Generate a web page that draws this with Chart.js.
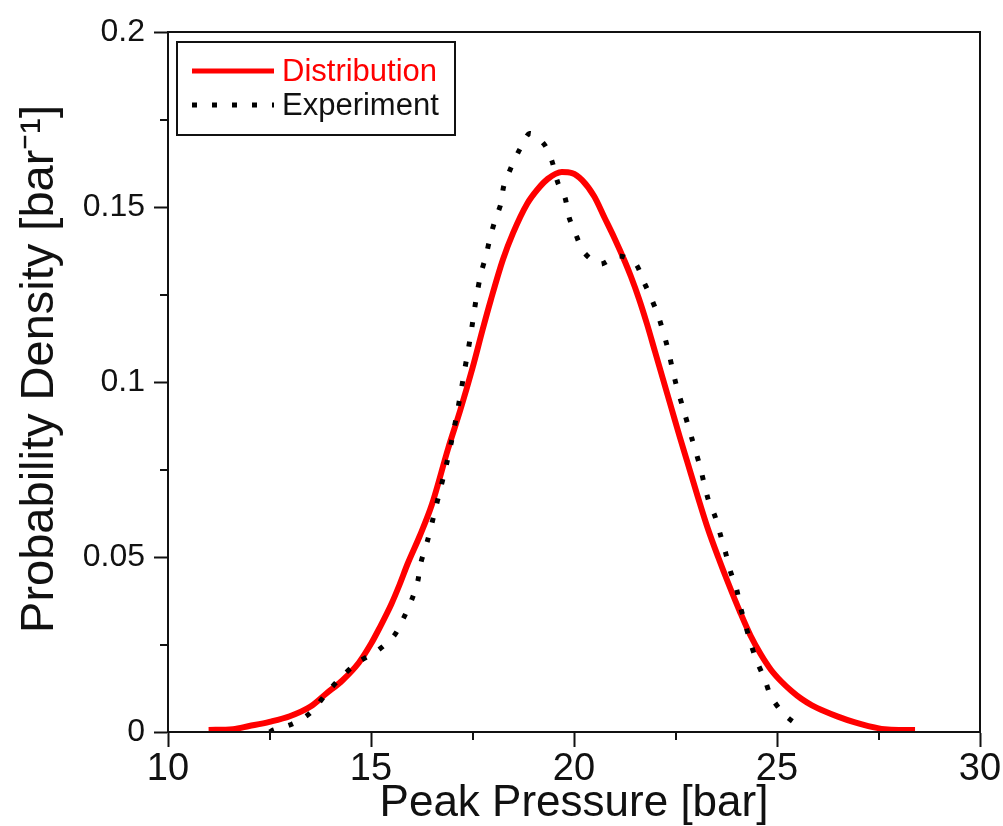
<!DOCTYPE html>
<html>
<head>
<meta charset="utf-8">
<script src="https://cdn.jsdelivr.net/npm/chart.js@4.4.1/dist/chart.umd.min.js"></script>
<style>
  html, body { margin: 0; padding: 0; background: #fff; }
  #wrap { width: 1003px; height: 826px; }
</style>
</head>
<body>
<div id="wrap"><canvas id="chart" width="1003" height="826"></canvas></div>
<script>
// Distribution (fitted curve)
const distX = [11.0, 11.6, 12.0, 12.5, 13.0, 13.5, 13.9, 14.3, 14.7, 15.0, 15.2, 15.5, 15.7, 15.9, 16.2, 16.5, 16.9, 17.2, 17.5, 17.75,
    17.95, 18.25, 18.5, 18.85, 19.1, 19.35, 19.7, 19.95, 20.2, 20.5, 20.75, 21.0, 21.25, 21.4, 21.6, 21.8, 22.0, 22.2, 22.4, 22.6,
    22.8, 23.05, 23.3, 23.55, 23.8, 24.1, 24.35, 24.6, 24.85, 25.1, 25.35, 25.6, 25.85, 26.2, 26.5, 26.9, 27.25, 27.65, 28.0, 28.4];
const distY = [0.0006, 0.0008, 0.0017, 0.0029, 0.0045, 0.0072, 0.011, 0.0148, 0.0198, 0.0252, 0.0295, 0.0365, 0.042, 0.048, 0.056, 0.065, 0.081, 0.092, 0.104, 0.115,
    0.1234, 0.135, 0.1426, 0.151, 0.155, 0.158, 0.16, 0.1597, 0.1577, 0.153, 0.147, 0.141, 0.1345, 0.1302, 0.1238, 0.1165, 0.1085, 0.1005, 0.0925, 0.0845,
    0.0768, 0.0672, 0.058, 0.05, 0.0425, 0.034, 0.0275, 0.0222, 0.0178, 0.0145, 0.0118, 0.0095, 0.0077, 0.0058, 0.0044, 0.0028, 0.0017, 0.0008, 0.0006, 0.0006];

// Experiment (measured)
const expX = [12.5, 12.6, 13.06, 13.5, 13.9, 14.27, 14.69, 15.13, 15.56, 15.8, 16.0, 16.15, 16.22, 16.4, 16.55, 16.7, 16.85, 17.0, 17.15, 17.3,
    17.45, 17.58, 17.7, 17.83, 17.93, 18.05, 18.2, 18.27, 18.44, 18.67, 18.91, 19.26, 19.46, 19.6, 19.78, 19.88, 20.05, 20.25, 20.64, 21.09,
    21.5, 21.72, 21.9, 22.1, 22.3, 22.5, 22.7, 22.9, 23.1, 23.31, 23.48, 23.6, 23.73, 23.85, 24.0, 24.1, 24.22, 24.35, 24.5, 24.7,
    24.86, 25.19, 25.6];
const expY = [0.0, 0.0006, 0.0023, 0.0054, 0.011, 0.0157, 0.020, 0.023, 0.0274, 0.0325, 0.0377, 0.043, 0.048, 0.055, 0.062, 0.069, 0.076, 0.084, 0.093, 0.103,
    0.113, 0.123, 0.1306, 0.136, 0.141, 0.146, 0.151, 0.156, 0.161, 0.1666, 0.171, 0.168, 0.163, 0.157, 0.1526, 0.147, 0.142, 0.137, 0.1337, 0.136,
    0.134, 0.1286, 0.124, 0.118, 0.11, 0.1, 0.092, 0.084, 0.076, 0.0663, 0.0614, 0.0566, 0.0514, 0.046, 0.041, 0.0357, 0.0308, 0.0254, 0.0203, 0.015,
    0.01, 0.0049, 0.0012];

const xMinor = [12.5, 17.5, 22.5, 27.5];
const yMinor = [0.025, 0.075, 0.125, 0.175];

const FONT = "'Liberation Sans', Arial, sans-serif";
const INK = '#111';

const toPoints = (xs, ys) => xs.map((x, i) => ({ x, y: ys[i] }));

const frame = {
    id: 'frame',
    afterDraw(chart) {
        const { ctx, chartArea: a, scales: { x, y } } = chart;
        ctx.save();
        ctx.strokeStyle = INK;
        ctx.lineWidth = 2;
        ctx.strokeRect(a.left, a.top, a.right - a.left, a.bottom - a.top);
        ctx.beginPath();
        for (const v of xMinor) {
            const px = Math.round(x.getPixelForValue(v));
            ctx.moveTo(px, a.bottom);
            ctx.lineTo(px, a.bottom + 8);
        }
        for (const v of yMinor) {
            const py = Math.round(y.getPixelForValue(v));
            ctx.moveTo(a.left, py);
            ctx.lineTo(a.left - 8, py);
        }
        ctx.stroke();
        ctx.restore();
    }
};

const boxLegend = {
    id: 'boxLegend',
    afterDraw(chart) {
        const { ctx } = chart;
        const sets = chart.data.datasets;
        ctx.save();
        ctx.strokeStyle = INK;
        ctx.lineWidth = 2;
        ctx.strokeRect(177, 42, 278, 93);
        ctx.font = '31px ' + FONT;
        ctx.textBaseline = 'middle';
        sets.forEach((ds, i) => {
            const yy = 71 + i * 34;
            ctx.beginPath();
            ctx.strokeStyle = ds.borderColor;
            ctx.lineWidth = ds.legendWidth;
            ctx.setLineDash(ds.borderDash || []);
            ctx.moveTo(192, yy);
            ctx.lineTo(274, yy);
            ctx.stroke();
            ctx.setLineDash([]);
            ctx.fillStyle = ds.labelColor;
            ctx.fillText(ds.label, 282, yy + 1);
        });
        ctx.restore();
    }
};

new Chart(document.getElementById('chart'), {
    type: 'line',
    data: {
        datasets: [
            {
                label: 'Distribution',
                data: toPoints(distX, distY),
                borderColor: '#ff0000',
                labelColor: '#ff0000',
                borderWidth: 6,
                legendWidth: 5,
                cubicInterpolationMode: 'monotone',
                pointRadius: 0,
                order: 1
            },
            {
                label: 'Experiment',
                data: toPoints(expX, expY),
                borderColor: '#000000',
                labelColor: '#111111',
                borderWidth: 5,
                legendWidth: 5,
                borderDash: [5, 15],
                borderCapStyle: 'butt',
                tension: 0.3,
                pointRadius: 0,
                order: 0
            }
        ]
    },
    options: {
        responsive: false,
        animation: false,
        events: [],
        layout: { padding: { left: 0, top: 32, right: 23, bottom: 0 } },
        plugins: { legend: { display: false }, tooltip: { enabled: false } },
        scales: {
            x: {
                type: 'linear',
                min: 10,
                max: 30,
                afterFit: s => { s.height = 94; },
                ticks: { stepSize: 5, color: INK, padding: 0, font: { family: FONT, size: 38 } },
                grid: { drawOnChartArea: false, tickLength: 15, tickWidth: 2, tickColor: INK },
                border: { color: INK, width: 2 },
                title: {
                    display: true,
                    text: 'Peak Pressure [bar]',
                    color: INK,
                    padding: { top: 0, bottom: 0 },
                    font: { family: FONT, size: 44, lineHeight: 1.0 }
                }
            },
            y: {
                min: 0,
                max: 0.2,
                afterFit: s => { s.width = 168; },
                ticks: {
                    stepSize: 0.05,
                    color: INK,
                    padding: 9,
                    font: { family: FONT, size: 32 },
                    callback: v => String(Number(v.toFixed(3)))
                },
                grid: { drawOnChartArea: false, tickLength: 14, tickWidth: 2, tickColor: INK },
                border: { color: INK, width: 2 },
                title: {
                    display: true,
                    // two leading spaces nudge the label up to where the original sits
                    text: '  Probability Density [bar\u207B\u00B9]',
                    color: INK,
                    padding: { top: 12, bottom: 0 },
                    font: { family: FONT, size: 47, lineHeight: 1.2 }
                }
            }
        }
    },
    plugins: [frame, boxLegend]
});
</script>
</body>
</html>
